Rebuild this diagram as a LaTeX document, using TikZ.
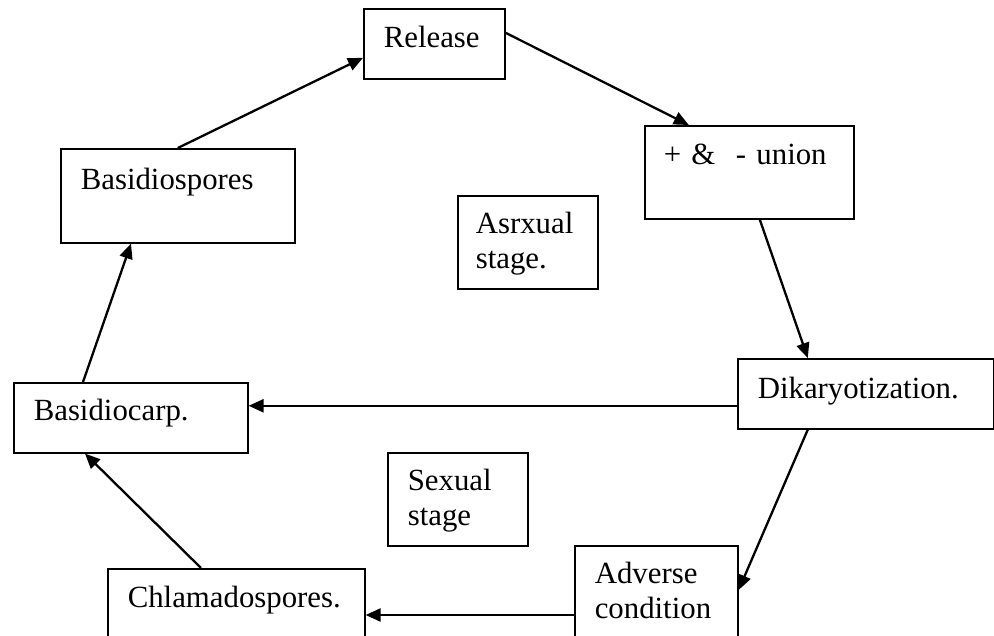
\documentclass[tikz,border=0pt]{standalone}
\usepackage{fontspec}
\setmainfont{Liberation Serif}
\usetikzlibrary{arrows.meta}

\begin{document}
\begin{tikzpicture}[x=1pt,y=-1pt,
                stagebox/.style={draw, line width=1.6pt, anchor=north west, inner ysep=0pt, inner xsep=20pt, align=left,
                    font=\fontsize{30.8}{35}\selectfont},
                cycarrow/.style={line width=2.3pt, -{Triangle[length=15pt,width=13pt]}}]
                \useasboundingbox (0,0) rectangle (994,636);
                \node[stagebox, text width=101pt, text height=39pt, text depth=31pt] (release) at (363,8) {Release};
                \node[stagebox, inner xsep=19pt, text width=171pt, text height=39pt, text depth=54pt] (union) at (644,125) {+ \&\ \ - union};
                \node[stagebox, text width=194pt, text height=41pt, text depth=53pt] (bspore) at (60,148) {Basidiospores};
                \node[stagebox, inner xsep=18pt, text width=104pt, text height=38pt, text depth=55pt] (asex) at (457,195) {Asrxual\\stage.};
                \node[stagebox, text width=216pt, text height=40pt, text depth=30pt] (dikar) at (737,358) {Dikaryotization.};
                \node[stagebox, text width=194pt, text height=38pt, text depth=32pt] (bcarp) at (13,382) {Basidiocarp.};
                \node[stagebox, text width=100pt, text height=38pt, text depth=55pt] (sex) at (387,452) {Sexual\\stage};
                \node[stagebox, text width=123pt, text height=38pt, text depth=77pt] (adverse) at (574,545) {Adverse\\condition};
                \node[stagebox, text width=217pt, text height=39pt, text depth=53pt] (chlam) at (107,568) {Chlamadospores.};
                \draw[cycarrow] (bspore.north) -- ([yshift=-14pt]release.west);
                \draw[cycarrow] ([yshift=11pt]release.east) -- ([xshift=-60.5pt]union.north);
                \draw[cycarrow] ([xshift=10.5pt]union.south) -- ([xshift=-58pt]dikar.north);
                \draw[cycarrow] ([yshift=-12pt]dikar.west) -- ([yshift=12pt]bcarp.east);
                \draw[cycarrow] ([xshift=-58pt]dikar.south) -- ([yshift=-45pt]adverse.north east);
                \draw[cycarrow] ([yshift=-70pt]adverse.north west) -- ([yshift=-47pt]chlam.north east);
                \draw[cycarrow] ([xshift=94pt]chlam.north west) -- ([xshift=72pt]bcarp.south west);
                \draw[cycarrow] ([xshift=70pt]bcarp.north west) -- ([xshift=71pt]bspore.south west);
            \end{tikzpicture}
\end{document}
